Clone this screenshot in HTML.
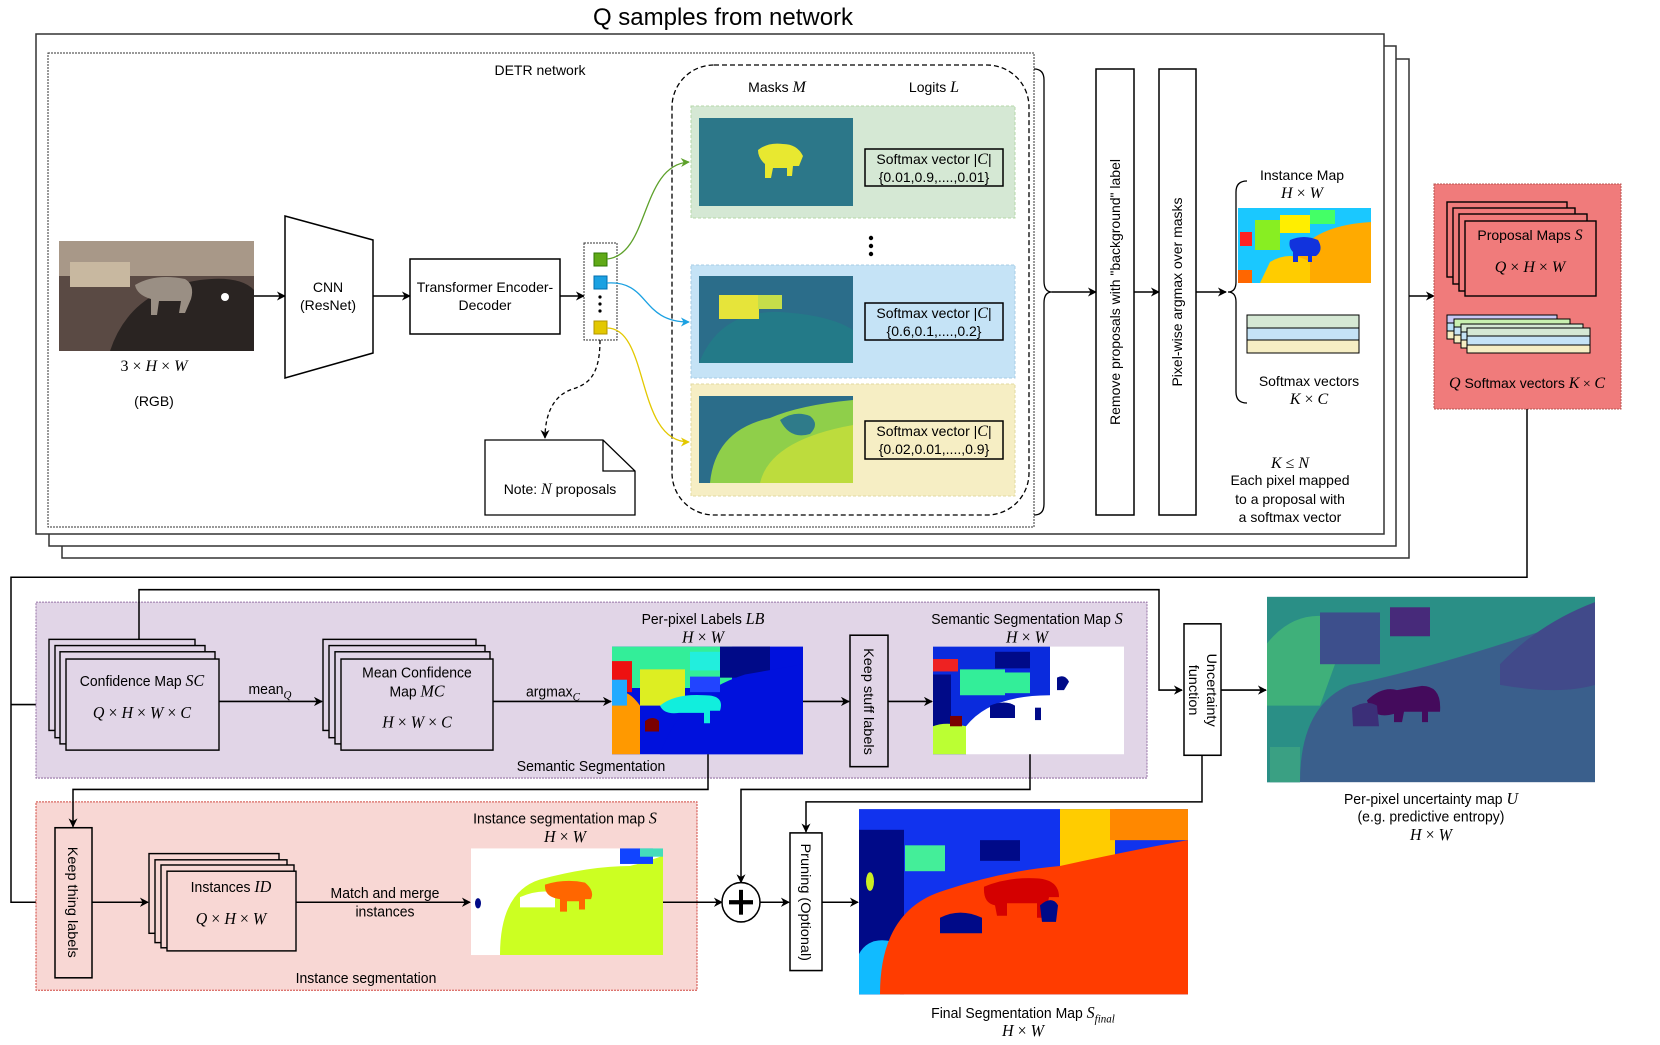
<!DOCTYPE html>
<html><head><meta charset="utf-8"><style>
html,body{margin:0;padding:0;background:#fff}
svg{display:block}
text{font-family:"Liberation Sans",sans-serif;font-size:14px;fill:#000}
.m{font-family:"Liberation Serif",serif;font-style:italic;font-size:16px}
.r{font-family:"Liberation Serif",serif;font-style:normal}
</style></head><body>
<svg width="1660" height="1045" viewBox="0 0 1660 1045" xmlns="http://www.w3.org/2000/svg">
<defs>
<marker id="a" viewBox="0 0 10 10" refX="9" refY="5" markerWidth="9" markerHeight="9" orient="auto" markerUnits="userSpaceOnUse"><path d="M0,0 L10,5 L0,10 L3,5z" fill="#000"/></marker>
<marker id="ag" viewBox="0 0 10 10" refX="9" refY="5" markerWidth="9" markerHeight="9" orient="auto" markerUnits="userSpaceOnUse"><path d="M0,0 L10,5 L0,10 L3,5z" fill="#5da12a"/></marker>
<marker id="ab" viewBox="0 0 10 10" refX="9" refY="5" markerWidth="9" markerHeight="9" orient="auto" markerUnits="userSpaceOnUse"><path d="M0,0 L10,5 L0,10 L3,5z" fill="#1ba1e2"/></marker>
<marker id="ay" viewBox="0 0 10 10" refX="9" refY="5" markerWidth="9" markerHeight="9" orient="auto" markerUnits="userSpaceOnUse"><path d="M0,0 L10,5 L0,10 L3,5z" fill="#e3c800"/></marker>
</defs>

<!-- title -->
<text x="723" y="25" text-anchor="middle" style="font-size:24px">Q samples from network</text>

<!-- stacked outer boxes -->
<rect x="62" y="59" width="1347" height="499" fill="#fff" stroke="#333" stroke-width="1.5"/>
<rect x="49" y="46" width="1347" height="500" fill="#fff" stroke="#333" stroke-width="1.5"/>
<rect x="36" y="34" width="1348" height="500" fill="#fff" stroke="#333" stroke-width="1.5"/>
<rect x="48" y="53" width="986" height="474" fill="none" stroke="#333" stroke-width="1" stroke-dasharray="2,1"/>
<text x="540" y="75" text-anchor="middle">DETR network</text>

<!-- cat image -->
<rect x="59" y="241" width="195" height="110" fill="#5a4a44"/>
<rect x="59" y="241" width="195" height="35" fill="#a89888"/>
<rect x="70" y="262" width="60" height="25" fill="#c8b8a0"/>
<path d="M110,351 Q130,290 200,280 Q240,275 254,290 L254,351z" fill="#2a2422"/>
<path d="M135,285 q20,-12 50,-6 q10,6 6,20 l-6,14 h-6 l2,-12 h-22 l-2,14 h-6 l0,-16 q-14,-4 -16,-14z" fill="#9a8f84"/>
<circle cx="225" cy="297" r="4" fill="#fff"/>
<text x="154" y="371" text-anchor="middle" class="m"><tspan class="r">3 × </tspan>H<tspan class="r"> × </tspan>W</text>
<text x="154" y="406" text-anchor="middle">(RGB)</text>
<line x1="254" y1="296" x2="285" y2="296" stroke="#000" stroke-width="1.5" marker-end="url(#a)"/>

<!-- CNN -->
<polygon points="285,216 373,240 373,353 285,378" fill="#fff" stroke="#000" stroke-width="1.5"/>
<text x="328" y="292" text-anchor="middle">CNN</text>
<text x="328" y="310" text-anchor="middle">(ResNet)</text>
<line x1="373" y1="296" x2="410" y2="296" stroke="#000" stroke-width="1.5" marker-end="url(#a)"/>
<rect x="410" y="259" width="150" height="75" fill="#fff" stroke="#000" stroke-width="1.5"/>
<text x="485" y="292" text-anchor="middle">Transformer Encoder-</text>
<text x="485" y="310" text-anchor="middle">Decoder</text>
<line x1="560" y1="296" x2="584" y2="296" stroke="#000" stroke-width="1.5" marker-end="url(#a)"/>

<!-- query column -->
<rect x="584" y="243" width="33" height="97" fill="#fff" stroke="#333" stroke-dasharray="2,1"/>
<rect x="594" y="253" width="13" height="13" fill="#60a917" stroke="#2d7600"/>
<rect x="594" y="276" width="13" height="13" fill="#1ba1e2" stroke="#006eaf"/>
<circle cx="600" cy="297" r="1.6"/><circle cx="600" cy="304" r="1.6"/><circle cx="600" cy="311" r="1.6"/>
<rect x="594" y="321" width="13" height="13" fill="#e3c800" stroke="#b09500"/>
<path d="M600,340 C600,380 585,385 570,390 C550,398 545,420 545,438" fill="none" stroke="#000" stroke-width="1.3" stroke-dasharray="4,3" marker-end="url(#a)"/>
<path d="M485,440 H603 L635,471 V515 H485z" fill="#fff" stroke="#000" stroke-width="1.3"/>
<path d="M603,440 V471 H635" fill="none" stroke="#000" stroke-width="1.3"/>
<text x="560" y="494" text-anchor="middle">Note: <tspan class="m">N</tspan> proposals</text>

<!-- rounded dashed container -->
<rect x="672" y="65" width="357" height="450" rx="42" fill="none" stroke="#000" stroke-width="1.3" stroke-dasharray="5,3"/>
<text x="777" y="92" text-anchor="middle">Masks <tspan class="m">M</tspan></text>
<text x="934" y="92" text-anchor="middle">Logits <tspan class="m">L</tspan></text>

<rect x="691" y="106" width="324" height="112" fill="#d5e8d4" stroke="#b6d7a8" stroke-dasharray="3,2"/>
<rect x="691" y="265" width="324" height="113" fill="#c5e3f6" stroke="#a8cde6" stroke-dasharray="3,2"/>
<rect x="691" y="384" width="324" height="112" fill="#f6eec4" stroke="#e2d9a0" stroke-dasharray="3,2"/>

<!-- mask images -->
<rect x="699" y="118" width="154" height="88" fill="#2e6b8a"/>
<rect x="699" y="118" width="154" height="88" fill="#2a8a86" opacity="0.4"/>
<path d="M758,150 q10,-8 25,-6 q14,0 20,12 l-4,10 h-6 l-1,10 h-5 l0,-8 h-14 l-2,10 h-6 l0,-14 q-7,-6 -7,-14z" fill="#e8e830"/>
<rect x="699" y="276" width="154" height="87" fill="#2b6d8a"/>
<path d="M699,363 Q720,310 780,312 Q830,315 853,330 V363z" fill="#237a88"/>
<rect x="719" y="295" width="40" height="24" fill="#e6e43a"/>
<rect x="758" y="295" width="24" height="14" fill="#c5de4a"/>
<rect x="699" y="396" width="154" height="87" fill="#2b6d8a"/>
<path d="M710,483 Q715,430 770,418 Q800,405 853,400 V483z" fill="#8fcf4a"/>
<path d="M760,483 Q770,440 853,425 V483z" fill="#c8df3a" opacity="0.8"/>
<path d="M780,420 q15,-10 30,-4 q10,8 0,18 q-20,6 -30,-14z" fill="#2f7b8a"/>

<!-- softmax boxes -->
<rect x="865" y="149" width="138" height="37" fill="none" stroke="#000" stroke-width="1.5"/>
<text x="934" y="164" text-anchor="middle">Softmax vector |<tspan class="m">C</tspan>|</text>
<text x="934" y="182" text-anchor="middle">{0.01,0.9,....,0.01}</text>
<rect x="865" y="303" width="138" height="37" fill="none" stroke="#000" stroke-width="1.5"/>
<text x="934" y="318" text-anchor="middle">Softmax vector |<tspan class="m">C</tspan>|</text>
<text x="934" y="336" text-anchor="middle">{0.6,0.1,....,0.2}</text>
<rect x="865" y="421" width="138" height="38" fill="none" stroke="#000" stroke-width="1.5"/>
<text x="934" y="436" text-anchor="middle">Softmax vector |<tspan class="m">C</tspan>|</text>
<text x="934" y="454" text-anchor="middle">{0.02,0.01,....,0.9}</text>
<circle cx="871" cy="238" r="2.2"/><circle cx="871" cy="246" r="2.2"/><circle cx="871" cy="254" r="2.2"/>

<!-- colored connectors -->
<path d="M607,259 C650,255 640,165 689,162" fill="none" stroke="#5da12a" stroke-width="1.3" marker-end="url(#ag)"/>
<path d="M607,283 C650,280 640,322 689,322" fill="none" stroke="#1ba1e2" stroke-width="1.3" marker-end="url(#ab)"/>
<path d="M607,328 C650,328 635,442 689,442" fill="none" stroke="#e3c800" stroke-width="1.3" marker-end="url(#ay)"/>

<!-- brace 1 -->
<path d="M1034,69 Q1044,69 1044,80 V281 Q1044,292 1052,292 Q1044,292 1044,303 V504 Q1044,515 1034,515" fill="none" stroke="#000" stroke-width="1.3"/>
<line x1="1052" y1="292" x2="1096" y2="292" stroke="#000" stroke-width="1.5" marker-end="url(#a)"/>
<rect x="1096" y="69" width="38" height="446" fill="#fff" stroke="#000" stroke-width="1.5"/>
<text transform="translate(1120,292) rotate(-90)" text-anchor="middle">Remove proposals with  "background" label</text>
<line x1="1134" y1="292" x2="1159" y2="292" stroke="#000" stroke-width="1.5" marker-end="url(#a)"/>
<rect x="1159" y="69" width="37" height="446" fill="#fff" stroke="#000" stroke-width="1.5"/>
<text transform="translate(1182,292) rotate(-90)" text-anchor="middle">Pixel-wise argmax over masks</text>
<line x1="1196" y1="292" x2="1226" y2="292" stroke="#000" stroke-width="1.5" marker-end="url(#a)"/>
<path d="M1247,181 Q1236,181 1236,192 V282 Q1236,292 1228,292 Q1236,292 1236,302 V392 Q1236,403 1247,403" fill="none" stroke="#000" stroke-width="1.3"/>

<text x="1302" y="180" text-anchor="middle">Instance Map</text>
<text x="1302" y="198" text-anchor="middle" class="m">H<tspan class="r"> × </tspan>W</text>
<!-- instance map -->
<rect x="1238" y="208" width="133" height="75" fill="#ffaa00"/>
<path d="M1238,208 H1371 V222 Q1320,225 1300,250 Q1280,270 1260,283 H1238z" fill="#1ac8ff"/>
<rect x="1255" y="220" width="25" height="30" fill="#88ee22"/>
<rect x="1280" y="215" width="30" height="18" fill="#ffee00"/>
<rect x="1310" y="210" width="25" height="14" fill="#44ff66"/>
<rect x="1240" y="232" width="12" height="14" fill="#ff2222"/>
<path d="M1270,262 Q1290,250 1310,262 V283 H1260z" fill="#ffcc00"/>
<path d="M1290,240 q14,-6 28,0 q6,10 -2,16 h-4 v6 h-4 v-6 h-10 v6 h-5 v-10 q-5,-5 -3,-12z" fill="#1133dd"/>
<rect x="1238" y="270" width="14" height="13" fill="#ff6600"/>
<!-- softmax bars -->
<rect x="1247" y="315" width="112" height="13" fill="#d5e8d4" stroke="#000"/>
<rect x="1247" y="328" width="112" height="12" fill="#c5e3f6" stroke="#000"/>
<rect x="1247" y="340" width="112" height="13" fill="#f6eec4" stroke="#000"/>
<text x="1309" y="386" text-anchor="middle">Softmax  vectors</text>
<text x="1309" y="404" text-anchor="middle" class="m">K<tspan class="r"> × </tspan>C</text>
<text x="1290" y="468" text-anchor="middle" class="m">K<tspan class="r"> ≤ </tspan>N</text>
<text x="1290" y="485" text-anchor="middle">Each pixel mapped</text>
<text x="1290" y="504" text-anchor="middle">to a proposal with</text>
<text x="1290" y="522" text-anchor="middle">a softmax vector</text>

<!-- red box -->
<line x1="1409" y1="296" x2="1434" y2="296" stroke="#000" stroke-width="1.5" marker-end="url(#a)"/>
<rect x="1434" y="184" width="187" height="225" fill="#f07b7b" stroke="#b85450" stroke-dasharray="2,1"/>
<g fill="#f07b7b" stroke="#000" stroke-width="1.4">
<rect x="1447" y="202" width="120" height="75"/>
<rect x="1453" y="208" width="122" height="76"/>
<rect x="1459" y="214" width="128" height="77"/>
<rect x="1465" y="221" width="131" height="75"/>
</g>
<text x="1530" y="240" text-anchor="middle">Proposal Maps <tspan class="m">S</tspan></text>
<text x="1530" y="272" text-anchor="middle" class="m">Q<tspan class="r"> × </tspan>H<tspan class="r"> × </tspan>W</text>
<g stroke="#000" stroke-width="1">
<rect x="1447" y="315" width="110" height="8" fill="#c8c8f5"/>
<rect x="1447" y="323" width="110" height="8" fill="#b8e0f5"/>
<rect x="1447" y="331" width="110" height="8" fill="#f6eec4"/>
<rect x="1454" y="319" width="116" height="8" fill="#c8f0b0"/>
<rect x="1454" y="327" width="116" height="8" fill="#c5e3f6"/>
<rect x="1454" y="335" width="116" height="8" fill="#f6eec4"/>
<rect x="1461" y="324" width="122" height="8" fill="#d5e8d4"/>
<rect x="1461" y="332" width="122" height="8" fill="#c5e3f6"/>
<rect x="1461" y="340" width="122" height="8" fill="#f6eec4"/>
<rect x="1467" y="328" width="123" height="8" fill="#d5e8d4"/>
<rect x="1467" y="336" width="123" height="9" fill="#c5e3f6"/>
<rect x="1467" y="345" width="123" height="8" fill="#f6eec4"/>
</g>
<text x="1527" y="388" text-anchor="middle"><tspan class="m">Q</tspan> Softmax vectors <tspan class="m">K</tspan><tspan class="r"> × </tspan><tspan class="m">C</tspan></text>

<line x1="1527" y1="409" x2="1527" y2="578" stroke="#000" stroke-width="1.5"/>

<g transform="matrix(1,0,0,1.035,0,-18.9)">
<!-- connector from red box -->
<polyline points="1527,576 11,576 11,890 53,890" fill="none" stroke="#000" stroke-width="1.5" marker-end="url(#a)"/>
<line x1="11" y1="699" x2="47" y2="699" stroke="#000" stroke-width="1.5" marker-end="url(#a)"/>

<!-- purple panel -->
<rect x="36" y="600" width="1111" height="170" fill="#e1d5e7" stroke="#9673a6" stroke-dasharray="2,1"/>
<polyline points="139,636 139,588 1159,588 1159,685 1182,685" fill="none" stroke="#000" stroke-width="1.5" marker-end="url(#a)"/>
<g fill="#e1d5e7" stroke="#000" stroke-width="1.4">
<rect x="49" y="636" width="146" height="88"/>
<rect x="55" y="642" width="150" height="89"/>
<rect x="60" y="648" width="155" height="89"/>
<rect x="66" y="655" width="153" height="88"/>
</g>
<text x="142" y="681" text-anchor="middle">Confidence Map <tspan class="m">SC</tspan></text>
<text x="142" y="712" text-anchor="middle" class="m">Q<tspan class="r"> × </tspan>H<tspan class="r"> × </tspan>W<tspan class="r"> × </tspan>C</text>
<text x="270" y="689" text-anchor="middle">mean<tspan class="m" style="font-size:11px" dy="4">Q</tspan></text>
<line x1="219" y1="696" x2="322" y2="696" stroke="#000" stroke-width="1.5" marker-end="url(#a)"/>
<g fill="#e1d5e7" stroke="#000" stroke-width="1.4">
<rect x="323" y="636" width="153" height="88"/>
<rect x="329" y="642" width="156" height="89"/>
<rect x="335" y="648" width="155" height="89"/>
<rect x="341" y="655" width="152" height="88"/>
</g>
<text x="417" y="673" text-anchor="middle">Mean Confidence</text>
<text x="417" y="691" text-anchor="middle">Map <tspan class="m">MC</tspan></text>
<text x="417" y="721" text-anchor="middle" class="m">H<tspan class="r"> × </tspan>W<tspan class="r"> × </tspan>C</text>
<text x="553" y="691" text-anchor="middle">argmax<tspan class="m" style="font-size:11px" dy="4">C</tspan></text>
<line x1="493" y1="696" x2="611" y2="696" stroke="#000" stroke-width="1.5" marker-end="url(#a)"/>

<text x="703" y="621" text-anchor="middle">Per-pixel Labels <tspan class="m">LB</tspan></text>
<text x="703" y="639" text-anchor="middle" class="m">H<tspan class="r"> × </tspan>W</text>
<!-- per-pixel labels img -->
<rect x="612" y="643" width="191" height="104" fill="#0011dd"/>
<rect x="612" y="643" width="120" height="40" fill="#33ee99"/>
<rect x="612" y="657" width="20" height="30" fill="#ee1111"/>
<rect x="640" y="665" width="45" height="35" fill="#ddee22"/>
<rect x="690" y="648" width="35" height="18" fill="#22eedd"/>
<rect x="720" y="643" width="50" height="30" fill="#000a88"/>
<path d="M612,690 Q625,680 640,700 V747 H612z" fill="#ff9900"/>
<rect x="612" y="675" width="15" height="25" fill="#22aaff"/>
<path d="M745,670 Q680,690 660,747 H803 V660z" fill="#0011dd"/>
<path d="M660,700 q15,-12 45,-10 q20,0 15,15 h-10 v12 h-6 v-10 h-25 q-15,2 -19,-7z" fill="#11eedd"/>
<rect x="690" y="672" width="30" height="15" fill="#2244ff"/>
<path d="M645,715 q8,-6 14,0 v10 h-14z" fill="#7a0000"/>

<line x1="803" y1="696" x2="849" y2="696" stroke="#000" stroke-width="1.5" marker-end="url(#a)"/>
<rect x="850" y="632" width="38" height="127" fill="none" stroke="#000" stroke-width="1.5"/>
<text transform="translate(864,696) rotate(90)" text-anchor="middle">Keep stuff labels</text>
<line x1="888" y1="696" x2="932" y2="696" stroke="#000" stroke-width="1.5" marker-end="url(#a)"/>
<text x="1027" y="621" text-anchor="middle">Semantic Segmentation Map <tspan class="m">S</tspan></text>
<text x="1027" y="639" text-anchor="middle" class="m">H<tspan class="r"> × </tspan>W</text>
<!-- semantic seg img -->
<rect x="933" y="643" width="191" height="104" fill="#fff"/>
<path d="M933,643 H1050 V690 Q990,690 966,720 V747 H933z" fill="#0a2bdd"/>
<rect x="960" y="665" width="45" height="25" fill="#33ee99"/>
<rect x="1000" y="668" width="30" height="20" fill="#33ee99"/>
<rect x="933" y="655" width="25" height="12" fill="#ee2222"/>
<path d="M933,670 h18 v50 h-18z" fill="#000a88"/>
<path d="M933,720 Q945,715 966,720 V747 H933z" fill="#bbff33"/>
<path d="M950,710 h12 v10 h-12z" fill="#7a0000"/>
<rect x="995" y="648" width="35" height="16" fill="#000a88"/>
<path d="M990,700 q15,-6 25,0 v12 h-25z" fill="#000a88"/>
<path d="M1035,702 h6 v12 h-6z" fill="#000a88"/>
<path d="M1057,673 q8,-4 12,4 l-5,8 h-7z" fill="#000a88"/>
<text x="591" y="763" text-anchor="middle">Semantic Segmentation</text>

<!-- uncertainty -->
<rect x="1184" y="621" width="37" height="127" fill="#fff" stroke="#000" stroke-width="1.5"/>
<text transform="translate(1207,685) rotate(90)" text-anchor="middle">Uncertainty</text>
<text transform="translate(1189,685) rotate(90)" text-anchor="middle">function</text>
<line x1="1221" y1="685" x2="1266" y2="685" stroke="#000" stroke-width="1.5" marker-end="url(#a)"/>
<rect x="1267" y="595" width="328" height="179" fill="#3a5f8c"/>
<path d="M1267,595 H1595 V610 Q1450,660 1350,680 Q1300,700 1300,774 H1267z" fill="#2a8f86"/>
<path d="M1267,640 Q1300,600 1350,620 L1320,700 H1267z" fill="#3fb07a"/>
<rect x="1320" y="610" width="60" height="50" fill="#3d4f8c"/>
<rect x="1390" y="605" width="40" height="28" fill="#472a7a"/>
<path d="M1500,660 Q1540,620 1595,600 V680 Q1560,690 1500,680z" fill="#414a8a"/>
<path d="M1367,695 q15,-14 30,-10 l25,-4 q20,0 18,25 h-12 v10 h-6 v-10 h-18 l-2,10 h-8 l0,-8 q-22,6 -27,-13z" fill="#440b5c"/>
<path d="M1352,702 q15,-8 25,-2 l2,20 h-26z" fill="#3b2f78"/>
<rect x="1270" y="740" width="30" height="34" fill="#3aa083"/>
<text x="1431" y="795" text-anchor="middle">Per-pixel uncertainty map <tspan class="m">U</tspan></text>
<text x="1431" y="812" text-anchor="middle">(e.g. predictive entropy)</text>
<text x="1431" y="830" text-anchor="middle" class="m">H<tspan class="r"> × </tspan>W</text>

<!-- pink panel -->
<rect x="36" y="793" width="661" height="182" fill="#f8d7d4" stroke="#d0473f" stroke-dasharray="2,1"/>
<polyline points="708,747 708,781 73,781 73,817" fill="none" stroke="#000" stroke-width="1.5" marker-end="url(#a)"/>
<polyline points="1030,747 1030,781 741,781 741,871" fill="none" stroke="#000" stroke-width="1.5" marker-end="url(#a)"/>
<polyline points="1202,748 1202,793 806,793 806,822" fill="none" stroke="#000" stroke-width="1.5" marker-end="url(#a)"/>
<rect x="55" y="818" width="37" height="145" fill="none" stroke="#000" stroke-width="1.5"/>
<text transform="translate(68,890) rotate(90)" text-anchor="middle">Keep thing labels</text>
<line x1="92" y1="890" x2="148" y2="890" stroke="#000" stroke-width="1.5" marker-end="url(#a)"/>
<g fill="#f8d7d4" stroke="#000" stroke-width="1.4">
<rect x="149" y="843" width="130" height="77"/>
<rect x="155" y="849" width="132" height="80"/>
<rect x="161" y="854" width="133" height="80"/>
<rect x="167" y="860" width="129" height="77"/>
</g>
<text x="231" y="880" text-anchor="middle">Instances <tspan class="m">ID</tspan></text>
<text x="231" y="911" text-anchor="middle" class="m">Q<tspan class="r"> × </tspan>H<tspan class="r"> × </tspan>W</text>
<text x="385" y="886" text-anchor="middle">Match and merge</text>
<text x="385" y="904" text-anchor="middle">instances</text>
<line x1="296" y1="890" x2="470" y2="890" stroke="#000" stroke-width="1.5" marker-end="url(#a)"/>
<text x="565" y="814" text-anchor="middle">Instance segmentation map <tspan class="m">S</tspan></text>
<text x="565" y="832" text-anchor="middle" class="m">H<tspan class="r"> × </tspan>W</text>
<rect x="471" y="838" width="192" height="103" fill="#fff"/>
<path d="M500,941 Q500,880 540,868 Q590,855 630,855 Q650,850 663,845 V941z" fill="#ccff22"/>
<rect x="620" y="838" width="33" height="15" fill="#1144ff"/>
<rect x="640" y="838" width="23" height="8" fill="#44ddbb"/>
<path d="M520,885 q20,-8 35,-4 v14 h-35z" fill="#fff"/>
<path d="M545,873 q20,-6 40,-2 q10,8 6,16 h-6 v10 h-6 v-8 h-12 v10 h-7 v-12 q-16,-2 -15,-14z" fill="#ff6600"/>
<ellipse cx="478" cy="891" rx="3" ry="5" fill="#000a88"/>
<text x="366" y="968" text-anchor="middle">Instance segmentation</text>

<!-- plus -->
<line x1="663" y1="890" x2="722" y2="890" stroke="#000" stroke-width="1.5" marker-end="url(#a)"/>
<circle cx="741" cy="890" r="19" fill="#fff" stroke="#000" stroke-width="1.5"/>
<line x1="729" y1="890" x2="753" y2="890" stroke="#000" stroke-width="4"/>
<line x1="741" y1="878" x2="741" y2="902" stroke="#000" stroke-width="4"/>
<line x1="760" y1="890" x2="789" y2="890" stroke="#000" stroke-width="1.5" marker-end="url(#a)"/>
<rect x="790" y="823" width="32" height="133" fill="#fff" stroke="#000" stroke-width="1.5"/>
<text transform="translate(801,890) rotate(90)" text-anchor="middle">Pruning (Optional)</text>
<line x1="822" y1="890" x2="858" y2="890" stroke="#000" stroke-width="1.5" marker-end="url(#a)"/>

<!-- final map -->
<rect x="859" y="800" width="329" height="179" fill="#1133ee"/>
<rect x="1060" y="800" width="55" height="60" fill="#ffcc00"/>
<rect x="1110" y="800" width="78" height="30" fill="#ff8800"/>
<rect x="859" y="820" width="45" height="159" fill="#000a88"/>
<rect x="905" y="835" width="40" height="25" fill="#44ee99"/>
<rect x="980" y="830" width="40" height="20" fill="#000a88"/>
<path d="M859,940 Q870,920 900,930 V979 H859z" fill="#11bbff"/>
<path d="M880,979 Q880,900 940,880 Q1000,860 1060,855 Q1130,840 1188,830 V979z" fill="#ff3c00"/>
<path d="M984,875 q25,-10 55,-8 q20,2 20,18 h-10 l-4,20 h-8 l0,-14 h-30 v12 h-10 l-2,-10 q-12,-2 -11,-18z" fill="#d40000"/>
<path d="M940,905 q20,-10 42,0 v15 h-42z" fill="#000a88"/>
<path d="M1040,893 q12,-10 18,0 l-2,16 h-14z" fill="#000a88"/>
<ellipse cx="870" cy="870" rx="4" ry="9" fill="#ccee22"/>
<text x="1023" y="1002" text-anchor="middle">Final Segmentation Map <tspan class="m">S<tspan style="font-size:11px" dy="4">final</tspan></tspan></text>
<text x="1023" y="1019" text-anchor="middle" class="m">H<tspan class="r"> × </tspan>W</text>
</g>
</svg>
</body></html>
